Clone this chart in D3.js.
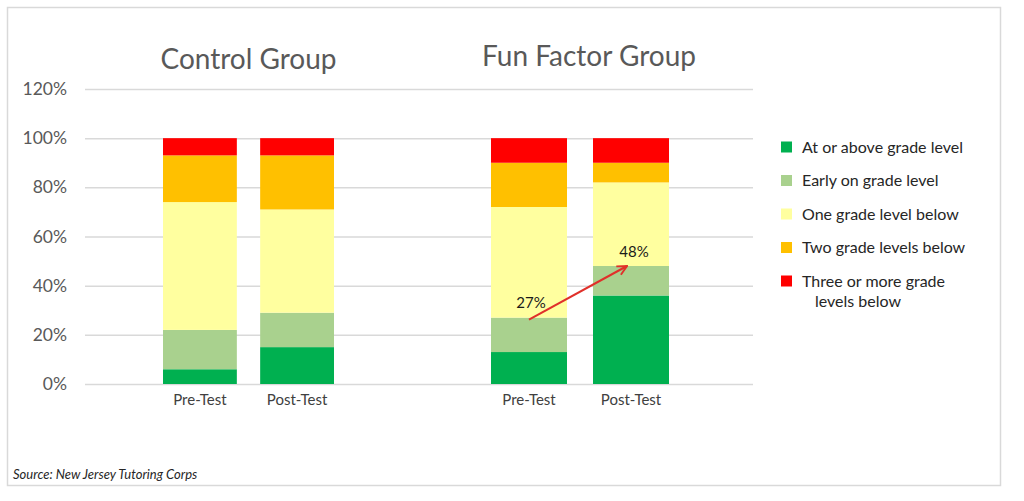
<!DOCTYPE html>
<html>
<head>
<meta charset="utf-8">
<script src="https://cdn.jsdelivr.net/npm/d3@7"></script>
<style>
  body { margin: 0; background: #fff; }
  svg { display: block; font-family: Lato, "Open Sans", sans-serif; }
</style>
</head>
<body>
<svg id="chart" width="1024" height="501"></svg>
<script>
// data (percent of students)
const groups = ["Control Group", "Fun Factor Group"]
const tests = ["Pre-Test", "Post-Test"]
const levels = ["At or above grade level", "Early on grade level", "One grade level below",
                "Two grade levels below", "Three or more grade levels below"]
const levelColors = ["#00b050", "#a9d18e", "#ffff9f", "#ffc000", "#ff0000"]
// order: control pre, control post, fun pre, fun post
const atOrAbove  = [6, 15, 13, 36]
const earlyOn    = [16, 14, 14, 12]
const oneBelow   = [52, 42, 45, 34]
const twoBelow   = [19, 22, 18, 8]
const threeBelow = [7, 7, 10, 10]
const yTicks = [0, 20, 40, 60, 80, 100, 120]

const series = [atOrAbove, earlyOn, oneBelow, twoBelow, threeBelow]
const rows = [0, 1, 2, 3].map(i => {
  const r = { group: groups[Math.floor(i / 2)], test: tests[i % 2] }
  levels.forEach((l, j) => r[l] = series[j][i])
  return r
})

const svg = d3.select("#chart")

// outer frame
svg.append("rect")
   .attr("x", 7.5).attr("y", 7.5)
   .attr("width", 993).attr("height", 478)
   .attr("fill", "none")
   .attr("stroke", "#d9d9d9")
   .attr("stroke-width", 1.5)

const yScale = d3.scaleLinear().domain([0, 120]).range([384, 89])

// one band scale per group
const xScales = {
  "Control Group": d3.scaleBand().domain(tests).range([163, 334]).paddingInner(0.24),
  "Fun Factor Group": d3.scaleBand().domain(tests).range([491, 669]).paddingInner(0.255)
}

const yAxis = d3.axisLeft(yScale)
                .tickValues(yTicks)
                .tickFormat(d => d + "%")
                .tickSize(-(753 - 85))
                .tickPadding(18)

svg.append("g")
   .attr("transform", "translate(85, 0)")
   .call(yAxis)
   .call(g => g.select(".domain").remove())
   .call(g => g.selectAll("line").attr("stroke", "#d9d9d9").attr("stroke-width", 1.5))
   .call(g => g.selectAll("text")
               .attr("fill", "#595959")
               .style("font-size", "17.5px")
               .style("font-family", "Lato, sans-serif"))

const stack = d3.stack().keys(levels)
const stacked = stack(rows)

svg.append("g")
   .selectAll("g")
   .data(stacked)
   .join("g")
   .attr("fill", (d, i) => levelColors[i])
   .selectAll("rect")
   .data(d => d)
   .join("rect")
   .attr("x", d => xScales[d.data.group](d.data.test))
   .attr("width", d => xScales[d.data.group].bandwidth())
   .attr("y", d => yScale(d[1]))
   .attr("height", d => yScale(d[0]) - yScale(d[1]))

// category labels
svg.append("g")
   .selectAll("text")
   .data(rows)
   .join("text")
   .attr("x", d => xScales[d.group](d.test) + xScales[d.group].bandwidth() / 2)
   .attr("y", 405)
   .attr("text-anchor", "middle")
   .attr("fill", "#404040")
   .style("font-size", "15px")
   .text(d => d.test)

// group titles
const titleY = { "Control Group": 69, "Fun Factor Group": 66 }
const titleShift = { "Control Group": 0, "Fun Factor Group": 9 }
svg.append("g")
   .selectAll("text")
   .data(groups)
   .join("text")
   .attr("x", g => d3.mean(xScales[g].range()) + titleShift[g])
   .attr("y", g => titleY[g])
   .attr("text-anchor", "middle")
   .attr("fill", "#595959")
   .style("font-size", "28px")
   .text(g => g)

// arrow annotation on the fun factor group
const fx = xScales["Fun Factor Group"]
const before = atOrAbove[2] + earlyOn[2]
const after = atOrAbove[3] + earlyOn[3]
const x0 = fx("Pre-Test") + fx.bandwidth() / 2
const x1 = fx("Post-Test") + fx.bandwidth() / 2

svg.append("defs").append("marker")
   .attr("id", "head")
   .attr("viewBox", "0 0 10 10")
   .attr("refX", 9).attr("refY", 5)
   .attr("markerWidth", 6).attr("markerHeight", 6)
   .attr("markerUnits", "strokeWidth")
   .attr("orient", "auto")
   .append("path")
   .attr("d", "M1,1 L9,5 L1,9")
   .attr("fill", "none")
   .attr("stroke", "#e0302a")
   .attr("stroke-width", 1.6)

svg.append("line")
   .attr("x1", x0).attr("y1", yScale(before) + 2)
   .attr("x2", x1 - 4).attr("y2", yScale(after))
   .attr("stroke", "#e0302a")
   .attr("stroke-width", 2)
   .attr("marker-end", "url(#head)")

svg.append("text")
   .attr("x", x0 + 2).attr("y", yScale(before) - 10)
   .attr("text-anchor", "middle")
   .attr("fill", "#1a1a1a")
   .style("font-size", "15px")
   .text(before + "%")

svg.append("text")
   .attr("x", x1 + 3).attr("y", yScale(after) - 9)
   .attr("text-anchor", "middle")
   .attr("fill", "#1a1a1a")
   .style("font-size", "15px")
   .text(after + "%")

// legend
const legend = svg.append("g")
   .selectAll("g")
   .data(levels)
   .join("g")
   .attr("transform", (d, i) => "translate(781," + (147 + i * 33.5) + ")")

legend.append("rect")
      .attr("x", 0).attr("y", -5.5)
      .attr("width", 11).attr("height", 11)
      .attr("fill", (d, i) => levelColors[i])

legend.append("text")
      .attr("x", 21).attr("y", 5.5)
      .attr("fill", "#262626")
      .style("font-size", "16px")
      .each(function (d) {
        const t = d3.select(this)
        if (d.startsWith("Three")) {
          t.append("tspan").text("Three or more grade")
          t.append("tspan").attr("x", 34).attr("dy", 20.5).text("levels below")
        } else {
          t.text(d)
        }
      })

// source note
svg.append("text")
   .attr("x", 13).attr("y", 479)
   .attr("fill", "#262626")
   .style("font-size", "13px")
   .style("font-style", "italic")
   .text("Source: New Jersey Tutoring Corps")
</script>
</body>
</html>
